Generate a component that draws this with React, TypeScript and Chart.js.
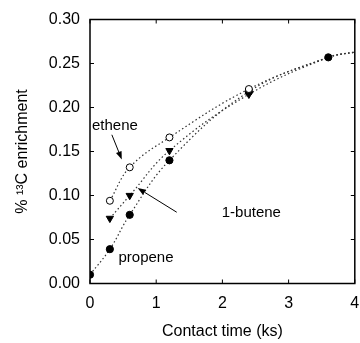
import { useEffect, useRef } from "react";
import { Chart, registerables } from "chart.js";

Chart.register(...registerables);

// ---- data ----
const propeneTime = [0, 0.3, 0.6, 1.2, 2.4, 3.6];
const propeneEnrich = [0.010, 0.039, 0.078, 0.140, 0.218, 0.257];
const otherTime = [0.3, 0.6, 1.2, 2.4];
const buteneEnrich = [0.074, 0.100, 0.151, 0.215];
const etheneEnrich = [0.094, 0.132, 0.166, 0.221];
// fitted curves beyond the measured points (converge, then continue to the frame)
const fitTailTime = [3.6, 4.0];
const fitTailEnrich = [0.257, 0.263];

const xTickValues = [0, 1, 2, 3, 4];
const yTickValues = [0, 0.05, 0.1, 0.15, 0.2, 0.25, 0.3];

const xTitle = "Contact time (ks)";
const yTitle = "% \u00B9\u00B3C enrichment";

// annotations
const labelNames = ["ethene", "1-butene", "propene"];
const labelAt = [
  [0.03, 0.179],
  [1.99, 0.080],
  [0.43, 0.029],
];
const arrowFrom = [
  [0.33, 0.169],
  [1.31, 0.081],
  null,
];
const arrowTo = [
  [0.48, 0.141],
  [0.72, 0.1085],
  null,
];

const FONT = "'Liberation Sans', Arial, Helvetica, sans-serif";

function pts(xs: number[], ys: number[]) {
  return xs.map((x, i) => ({ x, y: ys[i] }));
}

const overlay = {
  id: "overlay",
  afterDatasetsDraw(chart: any) {
    const { ctx, chartArea: a } = chart;
    const xs = chart.scales.x;
    const ys = chart.scales.y;
    ctx.save();
    ctx.strokeStyle = "#000";
    ctx.lineWidth = 1.5;
    ctx.strokeRect(a.left, a.top, a.right - a.left, a.bottom - a.top);
    ctx.lineWidth = 1;
    const tl = 4;
    const line = (x1: number, y1: number, x2: number, y2: number) => {
      ctx.beginPath();
      ctx.moveTo(x1, y1);
      ctx.lineTo(x2, y2);
      ctx.stroke();
    };
    xs.ticks.forEach((t: any) => {
      const px = xs.getPixelForValue(t.value);
      line(px, a.bottom, px, a.bottom - tl);
      line(px, a.top, px, a.top + tl);
    });
    ys.ticks.forEach((t: any) => {
      const py = ys.getPixelForValue(t.value);
      line(a.left, py, a.left + tl, py);
      line(a.right, py, a.right - tl, py);
    });

    // annotations
    ctx.fillStyle = "#000";
    ctx.font = `15px ${FONT}`;
    ctx.textAlign = "left";
    ctx.textBaseline = "middle";
    labelNames.forEach((name, i) => {
      ctx.fillText(name, xs.getPixelForValue(labelAt[i][0]), ys.getPixelForValue(labelAt[i][1]));
      const f = arrowFrom[i];
      const t = arrowTo[i];
      if (f && t) {
        const x1 = xs.getPixelForValue(f[0]);
        const y1 = ys.getPixelForValue(f[1]);
        const x2 = xs.getPixelForValue(t[0]);
        const y2 = ys.getPixelForValue(t[1]);
        const ang = Math.atan2(y2 - y1, x2 - x1);
        const hl = 8;
        const hw = 3;
        const bx = x2 - hl * Math.cos(ang);
        const by = y2 - hl * Math.sin(ang);
        ctx.lineWidth = 1;
        line(x1, y1, bx, by);
        ctx.beginPath();
        ctx.moveTo(x2, y2);
        ctx.lineTo(bx + hw * Math.sin(ang), by - hw * Math.cos(ang));
        ctx.lineTo(bx - hw * Math.sin(ang), by + hw * Math.cos(ang));
        ctx.closePath();
        ctx.fill();
      }
    });
    ctx.restore();
  },
};

export default function App() {
  const ref = useRef<HTMLCanvasElement>(null);
  useEffect(() => {
    if (!ref.current) return;
    const curve = (xs: number[], ys: number[], tailFrom: number) => ({
      type: "line" as const,
      data: pts(xs.concat(fitTailTime.slice(tailFrom)), ys.concat(fitTailEnrich.slice(tailFrom))),
      borderColor: "#333",
      borderWidth: 1.2,
      borderDash: [1.5, 2.5],
      pointRadius: 0,
      fill: false,
      tension: 0.4,
      order: 10,
    });
    const chart = new Chart(ref.current, {
      type: "scatter",
      data: {
        datasets: [
          curve(propeneTime, propeneEnrich, 1) as any,
          curve(otherTime, buteneEnrich, 0) as any,
          curve(otherTime, etheneEnrich, 0) as any,
          {
            label: "propene",
            data: pts(propeneTime, propeneEnrich),
            pointStyle: "circle",
            pointRadius: 3.6,
            backgroundColor: "#000",
            borderColor: "#000",
            borderWidth: 1,
            showLine: false,
            order: 3,
          },
          {
            label: "1-butene",
            data: pts(otherTime, buteneEnrich),
            pointStyle: "triangle",
            rotation: 180,
            pointRadius: 4.2,
            backgroundColor: "#000",
            borderColor: "#000",
            borderWidth: 1,
            showLine: false,
            order: 2,
          },
          {
            label: "ethene",
            data: pts(otherTime, etheneEnrich),
            pointStyle: "circle",
            pointRadius: 3.5,
            backgroundColor: "#fff",
            borderColor: "#000",
            borderWidth: 1,
            showLine: false,
            order: 1,
          },
        ],
      },
      options: {
        animation: false,
        responsive: false,
        layout: { padding: { left: 0, right: 4.3, top: 19.5, bottom: 0 } },
        plugins: { legend: { display: false }, tooltip: { enabled: false } },
        scales: {
          x: {
            type: "linear",
            min: 0,
            max: 4,
            afterBuildTicks: (s: any) => {
              s.ticks = xTickValues.map((v) => ({ value: v }));
            },
            ticks: {
              font: { family: FONT, size: 16 },
              color: "#000",
              padding: 10,
              maxRotation: 0,
              callback: (v: any) => String(v),
            },
            grid: { display: false, drawTicks: false },
            border: { display: false },
            title: {
              display: true,
              text: xTitle,
              color: "#000",
              font: { family: FONT, size: 16 },
              padding: { top: 0, bottom: 1.7 },
            },
            afterFit: (s: any) => {
              s.height = 59.5;
              s.paddingLeft = 0;
              s.paddingRight = 0;
            },
          },
          y: {
            type: "linear",
            min: 0,
            max: 0.3,
            afterBuildTicks: (s: any) => {
              s.ticks = yTickValues.map((v) => ({ value: v }));
            },
            ticks: {
              font: { family: FONT, size: 16 },
              color: "#000",
              padding: 10,
              callback: (v: any) => Number(v).toFixed(2),
            },
            grid: { display: false, drawTicks: false },
            border: { display: false },
            title: {
              display: true,
              text: yTitle,
              color: "#000",
              font: { family: FONT, size: 16 },
              padding: { top: 13.4, bottom: 0 },
            },
            afterFit: (s: any) => {
              s.width = 90;
              s.paddingTop = 0;
              s.paddingBottom = 0;
            },
          },
        },
      },
      plugins: [overlay],
    });
    return () => chart.destroy();
  }, []);
  return (
    <div style={{ position: "absolute", left: 0, top: 0, width: 360, height: 343, background: "#fff" }}>
      <canvas ref={ref} width={360} height={343} style={{ display: "block" }} />
    </div>
  );
}
